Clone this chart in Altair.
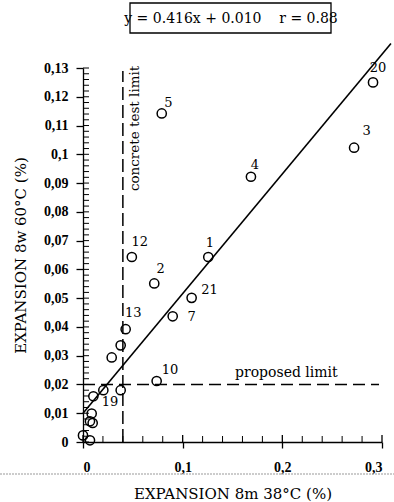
import altair as alt
import pandas as pd

# ---- data ----
pt_x = [0.291, 0.272, 0.1685, 0.1257, 0.079, 0.049, 0.0715, 0.109, 0.090, 0.0428,
        0.0378, 0.0288, 0.0739, 0.0378, 0.0204, 0.0104, 0.0087, 0.0097, 0.0070,
        0.0, 0.0070]
pt_y = [0.125, 0.1023, 0.0922, 0.0643, 0.1142, 0.0643, 0.0551, 0.0501, 0.0437, 0.0392,
        0.0336, 0.0294, 0.0212, 0.0180, 0.0180, 0.0159, 0.0099, 0.0066, 0.0072,
        0.0023, 0.0006]

lab_text = ["20", "3", "4", "1", "5", "12", "2", "21", "7", "13", "10", "19"]
lab_x = [0.296, 0.2845, 0.1725, 0.1274, 0.0856, 0.057, 0.078, 0.127, 0.109, 0.0505, 0.0873, 0.027]
lab_y = [0.1300, 0.1080, 0.0962, 0.0690, 0.1180, 0.0695, 0.0600, 0.0530, 0.0435, 0.0449, 0.0252, 0.0139]

slope, intercept = 0.416, 0.010
fit_x = [0.0, 0.309]

test_limit_x = 0.04
test_limit_top = 0.129
proposed_limit_y = 0.02
proposed_limit_end = 0.297

x_major = [0.0, 0.1, 0.2, 0.3]
x_minor = [0.02, 0.04, 0.06, 0.08, 0.12, 0.14, 0.16, 0.18, 0.22, 0.24, 0.26, 0.28]
y_major = [round(i * 0.01, 2) for i in range(14)]
y_minor = [round(i * 0.002, 3) for i in range(66)]

FONT = "DejaVu Serif"
TICKFONT = "Liberation Serif"

xs = alt.Scale(domain=[0, 0.3], nice=False, zero=False)
ys = alt.Scale(domain=[0, 0.13], nice=False, zero=False)
label_expr = "replace(format(datum.value, '.2~f'), '.', ',')"
xaxis = alt.Axis(values=x_major, labelExpr=label_expr, title="EXPANSION 8m 38°C (%)",
                 grid=False, tickSize=6, labelPadding=12, titlePadding=12,
                 domainColor="black", tickColor="black", labelColor="black", titleColor="black",
                 labelFont=TICKFONT, titleFont=FONT, labelFontSize=14, titleFontSize=15,
                 labelFontWeight="bold", titleFontWeight="normal", domainWidth=1.3, tickWidth=1.3)
yaxis = alt.Axis(values=y_major, labelExpr=label_expr, title="EXPANSION 8w 60°C (%)",
                 grid=False, tickSize=7, labelPadding=8, titlePadding=15,
                 domainColor="black", tickColor="black", labelColor="black", titleColor="black",
                 labelFont=TICKFONT, titleFont=FONT, labelFontSize=14, titleFontSize=15,
                 labelFontWeight="bold", titleFontWeight="normal", domainWidth=1.3, tickWidth=1.3)


def X(f):
    return alt.X(f, type="quantitative", scale=xs, axis=xaxis)


def Y(f):
    return alt.Y(f, type="quantitative", scale=ys, axis=yaxis)


pts = pd.DataFrame({"x": pt_x, "y": pt_y})
labs = pd.DataFrame({"x": lab_x, "y": lab_y, "t": lab_text})
fit = pd.DataFrame({"x": fit_x, "y": [slope * v + intercept for v in fit_x]})
vline = pd.DataFrame({"x": [test_limit_x], "y": [0.0], "y2": [test_limit_top]})
hline = pd.DataFrame({"x": [0.0], "x2": [proposed_limit_end], "y": [proposed_limit_y]})
ytick_df = pd.DataFrame({"y": y_minor})
xtick_df = pd.DataFrame({"x": x_minor})
xmaj_df = pd.DataFrame({"x": x_major})
one = pd.DataFrame({"a": [0]})

points = alt.Chart(pts).mark_point(shape="circle", filled=False, size=85, strokeWidth=1.5,
                                   color="black", opacity=1).encode(x=X("x"), y=Y("y"))
labels = alt.Chart(labs).mark_text(font=FONT, fontSize=13, fill="black").encode(
    x=X("x"), y=Y("y"), text="t:N")
fitline = alt.Chart(fit).mark_line(color="black", strokeWidth=1.6).encode(x=X("x"), y=Y("y"))
vrule = alt.Chart(vline).mark_rule(color="black", strokeWidth=1.5, strokeDash=[13, 5]).encode(
    x=X("x"), y=Y("y"), y2="y2")
hrule = alt.Chart(hline).mark_rule(color="black", strokeWidth=1.5, strokeDash=[12, 6]).encode(
    x=X("x"), x2="x2", y=Y("y"))
yticks = alt.Chart(ytick_df).mark_rule(color="black", strokeWidth=1).encode(
    y=Y("y"), x=alt.value(0), x2=alt.value(6))
xticks = alt.Chart(xtick_df).mark_rule(color="black", strokeWidth=1).encode(
    x=X("x"), y=alt.value(374), y2=alt.value(368))
xmaj = alt.Chart(xmaj_df).mark_rule(color="black", strokeWidth=1.3).encode(
    x=X("x"), y=alt.value(374), y2=alt.value(367))

test_txt = alt.Chart(pd.DataFrame({"x": [0.052], "y": [0.109], "t": ["concrete test limit"]})).mark_text(
    font=FONT, fontSize=13.5, angle=270, fill="black").encode(x=X("x"), y=Y("y"), text="t:N")
prop_txt = alt.Chart(pd.DataFrame({"x": [0.204], "y": [0.0239], "t": ["proposed limit"]})).mark_text(
    font=FONT, fontSize=14, fill="black").encode(x=X("x"), y=Y("y"), text="t:N")

box = alt.Chart(one).mark_rect(fill="white", stroke="black", strokeWidth=1.3).encode(
    x=alt.value(47), x2=alt.value(248), y=alt.value(-65), y2=alt.value(-35))
box_txt = alt.Chart(one).mark_text(font=FONT, fontSize=14, fill="black", baseline="alphabetic").encode(
    x=alt.value(148), y=alt.value(-45),
    text=alt.value("y = 0.416x + 0.010\u00a0\u00a0\u00a0\u00a0r = 0.88"))
scan_line = alt.Chart(one).mark_rule(color="#999999", strokeWidth=1, strokeDash=[2, 1]).encode(
    x=alt.value(-83), x2=alt.value(311), y=alt.value(406))

chart = alt.layer(
    scan_line, vrule, hrule, fitline, yticks, xticks, xmaj, points, labels, test_txt, prop_txt, box, box_txt
).properties(
    width=299, height=374,
    autosize=alt.AutoSizeParams(type="none"),
    padding={"left": 83, "top": 68, "right": 12, "bottom": 60},
    background="white",
).configure_view(stroke=None)

chart.save("out.html", embed_options={"renderer": "svg", "actions": False})
